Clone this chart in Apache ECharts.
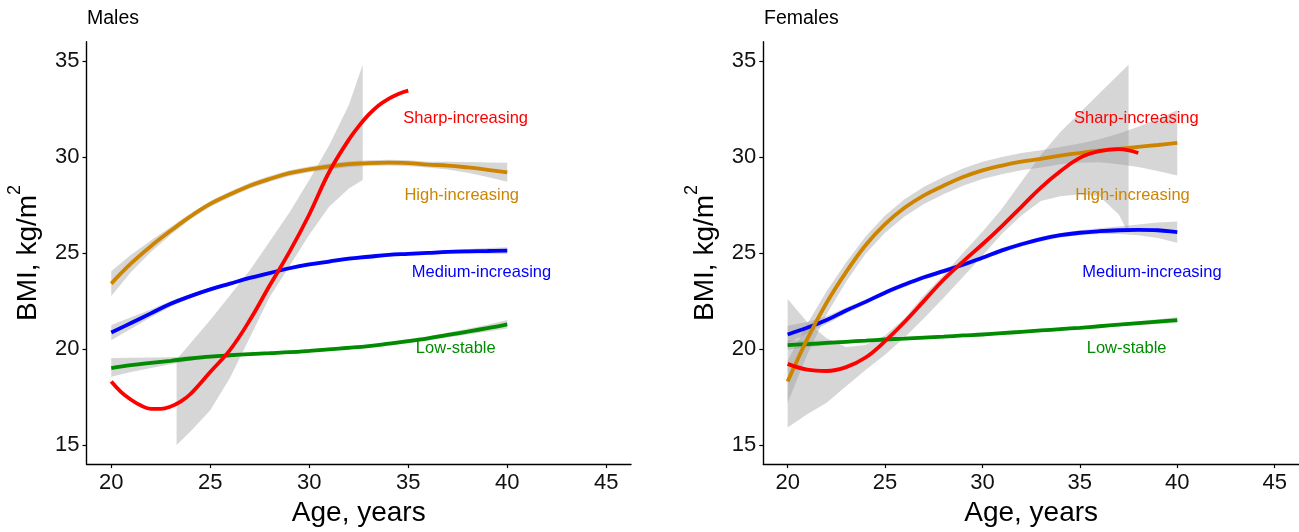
<!DOCTYPE html>
<html>
<head>
<meta charset="utf-8">
<script src="https://cdn.jsdelivr.net/npm/echarts@6/dist/echarts.min.js"></script>
<style>
html,body{margin:0;padding:0;background:#fff;}
#chart{width:1299px;height:532px;}
</style>
</head>
<body>
<div id="chart"></div>
<script>
// ---------- data ----------
const panelTitles = ['Males', 'Females'];
const xTicks = [20, 25, 30, 35, 40, 45];
const yTicks = [15, 20, 25, 30, 35];
const ages = [20,21,22,23,24,25,26,27,28,29,30,31,32,33,34,35,36,37,38,39,40];

const groupNames = ['Low-stable', 'Medium-increasing', 'High-increasing', 'Sharp-increasing'];
const groupColors = ['#008B00', '#0000FF', '#CD8500', '#FF0000'];
const labelX = [37.4, 38.7, 37.7, 37.9];
const labelY = [20, 24, 28, 32];

// Males
const mLow    = [19.0,19.15,19.27,19.38,19.5,19.6,19.67,19.73,19.78,19.83,19.9,19.98,20.06,20.15,20.27,20.4,20.55,20.73,20.9,21.08,21.28];
const mLowLo  = [18.55,18.8,19.0,19.2,19.38,19.5,19.59,19.65,19.7,19.75,19.82,19.9,19.98,20.07,20.18,20.3,20.44,20.6,20.75,20.9,21.06];
const mLowHi  = [19.53,19.54,19.55,19.56,19.62,19.7,19.75,19.81,19.86,19.91,19.98,20.06,20.14,20.23,20.36,20.5,20.66,20.86,21.05,21.26,21.5];
const mMed    = [20.85,21.35,21.85,22.35,22.75,23.1,23.4,23.7,23.95,24.2,24.4,24.55,24.7,24.8,24.9,24.95,25.0,25.05,25.08,25.1,25.12];
const mMedLo  = [20.45,21.05,21.65,22.2,22.65,23.0,23.3,23.6,23.85,24.1,24.3,24.45,24.6,24.7,24.8,24.85,24.9,24.95,24.96,24.95,24.94];
const mMedHi  = [21.25,21.65,22.05,22.5,22.85,23.2,23.5,23.8,24.05,24.3,24.5,24.65,24.8,24.9,25.0,25.05,25.1,25.15,25.2,25.25,25.3];
const mHigh   = [23.4,24.45,25.35,26.15,26.9,27.55,28.05,28.5,28.85,29.15,29.35,29.5,29.62,29.68,29.7,29.68,29.6,29.55,29.45,29.33,29.2];
const mHighLo = [22.75,24.0,25.05,25.95,26.75,27.4,27.9,28.35,28.7,29.0,29.2,29.35,29.47,29.53,29.55,29.53,29.45,29.35,29.17,28.95,28.7];
const mHighHi = [24.05,24.9,25.65,26.35,27.05,27.7,28.2,28.65,29.0,29.3,29.5,29.65,29.77,29.83,29.85,29.83,29.75,29.75,29.73,29.71,29.7];
const mSharpAges = [20,20.5,21,21.5,22,22.5,23,23.5,24,25,26,27,28,29,30,31,32,32.5,33,33.5,34,34.5,35];
const mSharp     = [18.3,17.75,17.35,17.05,16.88,16.88,17.0,17.25,17.65,18.8,19.95,21.5,23.3,25.05,27.0,29.2,30.9,31.6,32.2,32.68,33.02,33.28,33.45];
const mSharpCIAges = [23.3,24,25,26,27,28,29,30,31,32,32.7];
const mSharpLo     = [15.0,15.7,16.8,18.5,20.6,22.7,24.3,25.95,27.4,28.35,28.8];
const mSharpHi     = [19.45,20.3,21.5,22.8,24.1,25.6,27.1,28.8,30.6,32.7,34.8];

// Females
const fLow    = [20.2,20.25,20.31,20.37,20.43,20.49,20.54,20.59,20.64,20.7,20.75,20.82,20.89,20.96,21.03,21.1,21.18,21.26,21.34,21.42,21.5];
const fLowLo  = [19.95,20.08,20.19,20.29,20.35,20.41,20.46,20.51,20.56,20.62,20.67,20.74,20.81,20.88,20.95,21.02,21.1,21.18,21.24,21.3,21.35];
const fLowHi  = [20.45,20.42,20.43,20.45,20.51,20.57,20.62,20.67,20.72,20.78,20.83,20.9,20.97,21.04,21.11,21.18,21.26,21.34,21.44,21.54,21.65];
const fMed    = [20.75,21.1,21.5,22.0,22.45,22.93,23.35,23.73,24.05,24.38,24.75,25.13,25.45,25.72,25.92,26.05,26.13,26.18,26.2,26.18,26.08];
const fMedLo  = [20.3,20.8,21.3,21.85,22.33,22.81,23.23,23.61,23.93,24.26,24.63,25.01,25.33,25.6,25.8,25.92,25.98,25.98,25.92,25.78,25.53];
const fMedHi  = [21.2,21.4,21.7,22.15,22.57,23.05,23.47,23.85,24.17,24.5,24.87,25.25,25.57,25.84,26.04,26.18,26.28,26.38,26.48,26.58,26.63];
const fHigh   = [18.3,20.5,22.4,24.0,25.4,26.5,27.35,28.0,28.5,28.95,29.3,29.55,29.75,29.9,30.07,30.2,30.32,30.42,30.52,30.62,30.73];
const fHighLo = [17.2,19.7,21.8,23.5,24.95,26.05,26.9,27.55,28.05,28.5,28.85,29.1,29.3,29.45,29.62,29.7,29.72,29.62,29.47,29.27,29.03];
const fHighHi = [19.4,21.3,23.0,24.5,25.85,26.95,27.8,28.45,28.95,29.4,29.75,30.0,30.2,30.35,30.52,30.7,30.92,31.22,31.57,31.97,32.43];
const fSharpAges = [20,21,22,23,24,25,26,27,28,29,30,31,32,33,34,35,36,37,38];
const fSharp     = [19.22,18.92,18.85,19.05,19.55,20.4,21.4,22.5,23.6,24.55,25.45,26.4,27.4,28.4,29.25,29.95,30.3,30.4,30.2];
const fSharpCIAges = [20,21,22,23,24,25,26,27,28,29,30,31,32,33,34,35,36,37,37.5];
const fSharpLo     = [15.9,16.6,17.2,18.05,18.9,19.7,20.6,21.6,22.65,23.75,24.85,26.0,26.95,27.7,27.95,28.05,27.95,27.0,26.0];
const fSharpHi     = [22.6,21.4,20.55,20.1,20.2,20.7,21.6,22.8,23.85,25.0,26.1,27.3,28.7,30.1,31.3,32.3,33.3,34.3,34.8];

// ---------- build ----------
const FONT = 'Liberation Sans, Arial, Helvetica, sans-serif';
const panels = [
  { groups: [
      {ages: ages, line: mLow,  ciAges: ages, lo: mLowLo,  hi: mLowHi},
      {ages: ages, line: mMed,  ciAges: ages, lo: mMedLo,  hi: mMedHi},
      {ages: ages, line: mHigh, ciAges: ages, lo: mHighLo, hi: mHighHi},
      {ages: mSharpAges, line: mSharp, ciAges: mSharpCIAges, lo: mSharpLo, hi: mSharpHi}
  ]},
  { groups: [
      {ages: ages, line: fLow,  ciAges: ages, lo: fLowLo,  hi: fLowHi},
      {ages: ages, line: fMed,  ciAges: ages, lo: fMedLo,  hi: fMedHi},
      {ages: ages, line: fHigh, ciAges: ages, lo: fHighLo, hi: fHighHi},
      {ages: fSharpAges, line: fSharp, ciAges: fSharpCIAges, lo: fSharpLo, hi: fSharpHi}
  ]}
];

const grids = [
  {left: 86.5, top: 41.7, width: 544.5, height: 425},
  {left: 763.3, top: 41.7, width: 541.7, height: 425}
];

function ribbonSeries(pi, g) {
  return {
    type: 'custom', xAxisIndex: pi, yAxisIndex: pi, silent: true,
    coordinateSystem: 'cartesian2d',
    data: g.ciAges.map((a, i) => [a, g.lo[i], g.hi[i]]),
    encode: {x: 0, y: [1, 2]},
    renderItem: function (params, api) {
      if (params.dataIndex !== 0) return null;
      const top = g.ciAges.map((a, i) => api.coord([a, g.hi[i]]));
      const bot = g.ciAges.map((a, i) => api.coord([a, g.lo[i]])).reverse();
      return {
        type: 'polygon',
        shape: {points: top.concat(bot)},
        style: {fill: 'rgba(153,153,153,0.4)', stroke: null}
      };
    }
  };
}

const series = [];
panels.forEach((p, pi) => {
  p.groups.forEach((g, gi) => {
    series.push(ribbonSeries(pi, g));
    series.push({
      type: 'line', xAxisIndex: pi, yAxisIndex: pi,
      data: g.ages.map((a, i) => [a, g.line[i]]),
      symbol: 'none', smooth: 0.4, silent: true,
      lineStyle: {color: groupColors[gi], width: 3.8, cap: 'butt'}
    });
  });
  series.push({
    type: 'scatter', xAxisIndex: pi, yAxisIndex: pi, symbolSize: 0, silent: true, z: 10,
    itemStyle: {opacity: 1},
    data: groupNames.map((n, i) => ({
      name: n, value: [labelX[i], labelY[i]],
      label: {show: true, position: 'inside', formatter: n, color: groupColors[i],
              fontSize: 16.5, fontFamily: FONT, opacity: 1}
    }))
  });
});

function xAxisDef(gi) {
  return {
    type: 'value', gridIndex: gi, min: 18.75, max: 46.25,
    name: 'Age, years', nameLocation: 'middle', nameGap: 23,
    nameTextStyle: {fontSize: 28, color: '#000', fontFamily: FONT, verticalAlign: 'top'},
    axisLine: {show: true, lineStyle: {color: '#000', width: 1.4}},
    axisTick: {show: true, length: 4, lineStyle: {color: '#000', width: 1.2}, customValues: xTicks},
    axisLabel: {fontSize: 22, color: '#111', fontFamily: FONT, margin: 8, customValues: xTicks},
    splitLine: {show: false}
  };
}
function yAxisDef(gi) {
  return {
    type: 'value', gridIndex: gi, min: 14, max: 36,
    name: '{a|BMI, kg/m}{s|2}', nameLocation: 'middle', nameGap: 44, nameRotate: 90,
    nameTextStyle: {
      color: '#000', fontFamily: FONT,
      rich: {
        a: {fontSize: 28, lineHeight: 36, color: '#000', fontFamily: FONT, verticalAlign: 'bottom'},
        s: {fontSize: 18, lineHeight: 18, color: '#000', fontFamily: FONT, verticalAlign: 'top'}
      }
    },
    axisLine: {show: true, lineStyle: {color: '#000', width: 1.4}},
    axisTick: {show: true, length: 4, lineStyle: {color: '#000', width: 1.2}, customValues: yTicks},
    axisLabel: {fontSize: 22, color: '#111', fontFamily: FONT, margin: 7, customValues: yTicks},
    splitLine: {show: false}
  };
}

const option = {
  animation: false,
  backgroundColor: '#fff',
  title: [
    {text: panelTitles[0], left: 87, top: 9, padding: 0,
     textStyle: {fontSize: 19.5, fontWeight: 'normal', color: '#000', fontFamily: FONT}},
    {text: panelTitles[1], left: 764, top: 9, padding: 0,
     textStyle: {fontSize: 19.5, fontWeight: 'normal', color: '#000', fontFamily: FONT}}
  ],
  grid: grids,
  xAxis: [xAxisDef(0), xAxisDef(1)],
  yAxis: [yAxisDef(0), yAxisDef(1)],
  series: series
};

const chart = echarts.init(document.getElementById('chart'), null, {renderer: 'canvas'});
chart.setOption(option);
</script>
</body>
</html>
